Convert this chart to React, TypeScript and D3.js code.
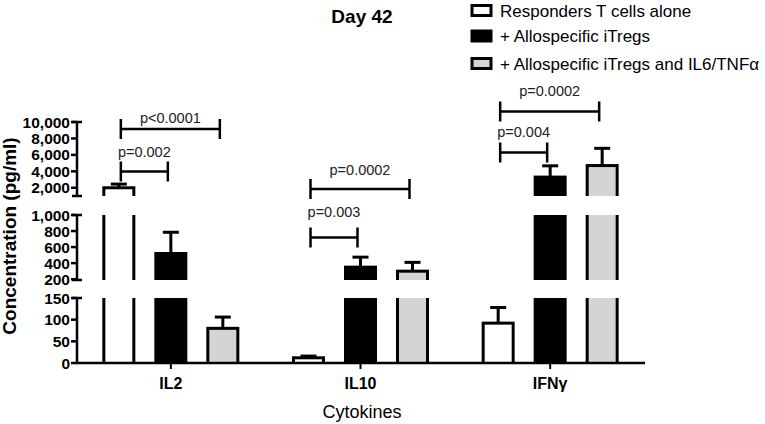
import * as d3 from 'd3';

// cytokine groups and the three culture conditions
const categories = ['IL2', 'IL10', 'IFNγ'];
const seriesLabels = [
  'Responders T cells alone',
  '+ Allospecific iTregs',
  '+ Allospecific iTregs and IL6/TNFα',
];

// mean and SEM per condition, in pg/ml
const aloneMean = [2000, 12, 92];
const aloneSem = [450, 4, 36];
const itregMean = [520, 350, 3300];
const itregSem = [265, 125, 1370];
const cytoMean = [80, 300, 4700];
const cytoSem = [26, 110, 2100];

const yTicksLow = [0, 50, 100, 150];
const yTicksMid = [200, 400, 600, 800, 1000];
const yTicksHigh = [2000, 4000, 6000, 8000, 10000];

// significance brackets: group, from series, to series, label
const pGroup = [0, 0, 1, 1, 2, 2];
const pFrom = [0, 0, 0, 0, 0, 0];
const pTo = [2, 1, 2, 1, 2, 1];
const pText = ['p<0.0001', 'p=0.002', 'p=0.0002', 'p=0.003', 'p=0.0002', 'p=0.004'];

// layout only
const bracketY = [129, 171.5, 189, 237.5, 111.5, 152.5];
const bracketTextY = [123, 157, 175, 217, 96, 137];
const fills = ['#ffffff', '#000000', '#d4d4d4'];
const font = "'Liberation Sans', Arial, sans-serif";

const segments = [
  { lo: 0, hi: 150, y0: 363, y1: 298, ticks: yTicksLow },
  { lo: 190, hi: 1000, y0: 280, y1: 215, ticks: yTicksMid },
  { lo: 1000, hi: 10000, y0: 196, y1: 122, ticks: yTicksHigh },
];

const axisX = 77;
const barW = 30;

export default function App() {
  const x = d3.scaleBand().domain(categories).range([76, 645]);
  const inner = d3.scalePoint<number>().domain([0, 1, 2]).range([-52, 52]);
  const scales = segments.map(s => d3.scaleLinear().domain([s.lo, s.hi]).range([s.y0, s.y1]));
  const fmt = d3.format(',');

  const means = [aloneMean, itregMean, cytoMean];
  const sems = [aloneSem, itregSem, cytoSem];
  const cx = (j: number, i: number) => (x(categories[j]) as number) + x.bandwidth() / 2 + (inner(i) as number);

  const segOf = (v: number) => {
    let k = 0;
    segments.forEach((s, idx) => { if (v >= s.lo) k = idx; });
    return k;
  };

  return (
    <svg width={765} height={424} style={{ position: 'absolute', left: 0, top: 0, background: '#fff' }} fontFamily={font}>
      <defs>
        {segments.map((s, k) => (
          <clipPath id={`seg-${k}`} key={k}>
            <rect x={0} y={s.y1} width={765} height={s.y0 - s.y1} />
          </clipPath>
        ))}
      </defs>

      {/* bars, one piece per axis segment */}
      {means.map((vals, i) =>
        vals.map((v, j) =>
          segments.map((s, k) => {
            if (v < s.lo) return null;
            const top = v >= s.hi ? s.y1 - 6 : scales[k](v);
            return (
              <rect key={`${i}-${j}-${k}`} clipPath={`url(#seg-${k})`}
                x={cx(j, i) - barW / 2} y={top} width={barW} height={s.y0 + 6 - top}
                fill={fills[i]} stroke="#000" strokeWidth={3} />
            );
          })
        )
      )}

      {/* error bars */}
      {means.map((vals, i) =>
        vals.map((v, j) => {
          const k = segOf(v);
          const y0 = scales[k](v);
          const y1 = scales[k](v + sems[i][j]);
          const c = cx(j, i);
          return (
            <g key={`e${i}-${j}`} stroke="#000" strokeWidth={3}>
              <line x1={c} x2={c} y1={y0} y2={y1} />
              <line x1={c - 8} x2={c + 8} y1={y1} y2={y1} />
            </g>
          );
        })
      )}

      {/* broken y axis */}
      {segments.map((s, k) => (
        <g key={`ax${k}`} stroke="#000" strokeWidth={2.5}>
          <line x1={axisX} x2={axisX} y1={s.y0} y2={s.y1} />
          {k > 0 && <line x1={axisX - 5} x2={axisX + 5} y1={s.y0} y2={s.y0} />}
          <line x1={axisX - 5} x2={axisX + 5} y1={s.y1} y2={s.y1} />
          {s.ticks.map(t => (
            <line key={t} x1={axisX - 6} x2={axisX} y1={scales[k](t)} y2={scales[k](t)} />
          ))}
        </g>
      ))}
      {segments.map((s, k) =>
        s.ticks.map(t => (
          <text key={`tl${k}-${t}`} x={axisX - 7} y={scales[k](t) + 5.5} textAnchor="end"
            fontSize={15.5} fontWeight="bold">{fmt(t)}</text>
        ))
      )}

      {/* x axis */}
      <line x1={76} x2={645} y1={363} y2={363} stroke="#000" strokeWidth={2.5} />
      {categories.map(c => {
        const px = (x(c) as number) + x.bandwidth() / 2;
        return (
          <g key={c}>
            <line x1={px} x2={px} y1={363} y2={369} stroke="#000" strokeWidth={2} />
            <text x={px} y={389} textAnchor="middle" fontSize={16} fontWeight="bold">{c}</text>
          </g>
        );
      })}
      <text x={362} y={418} textAnchor="middle" fontSize={18}>Cytokines</text>
      <text transform="translate(16,236) rotate(-90)" textAnchor="middle" fontSize={19} fontWeight="bold">
        Concentration (pg/ml)
      </text>
      <text x={362} y={23} textAnchor="middle" fontSize={19} fontWeight="bold">Day 42</text>

      {/* significance brackets */}
      {pText.map((t, n) => {
        const xa = cx(pGroup[n], pFrom[n]) + 2;
        const xb = cx(pGroup[n], pTo[n]) - 3;
        const y = bracketY[n];
        return (
          <g key={`p${n}`}>
            <g stroke="#000" strokeWidth={2.5}>
              <line x1={xa} x2={xb} y1={y} y2={y} />
              <line x1={xa} x2={xa} y1={y - 10} y2={y + 10} />
              <line x1={xb} x2={xb} y1={y - 10} y2={y + 10} />
            </g>
            <text x={(xa + xb) / 2} y={bracketTextY[n]} textAnchor="middle" fontSize={14.5} fill="#222">{t}</text>
          </g>
        );
      })}

      {/* legend */}
      {seriesLabels.map((l, i) => {
        const cy = [10.5, 36, 63.5][i];
        return (
          <g key={l}>
            <rect x={472} y={cy - 5} width={19} height={10} fill={fills[i]} stroke="#000" strokeWidth={3} />
            <text x={500} y={cy + 6} fontSize={17}>{l}</text>
          </g>
        );
      })}
    </svg>
  );
}
